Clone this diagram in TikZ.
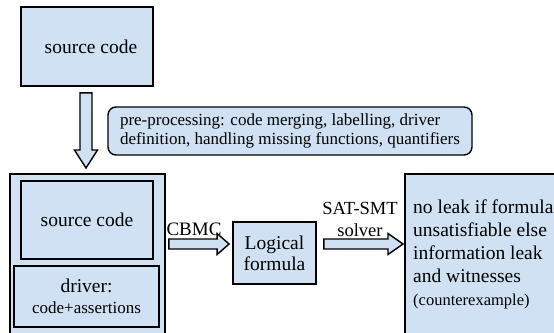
\documentclass[tikz,border=0pt]{standalone}
\usepackage{fontspec}
\setmainfont{Liberation Serif}
\usetikzlibrary{positioning,calc}
\definecolor{boxblue}{RGB}{207,225,242}

\begin{document}
\begin{tikzpicture}[x=1pt,y=-1pt,
  box/.style={draw,line width=1.8pt,fill=boxblue,inner sep=2pt},
  big/.style={font=\fontsize{19.5}{23}\selectfont},
  small/.style={font=\fontsize{17}{19}\selectfont},
  fatarrow/.style={draw,line width=1.4pt,fill=boxblue,
    to path={let \p1=(\tikztostart),\p2=(\tikztotarget) in
      (\x1,\y1+5pt) -- (\x2-#1,\y1+5pt) -- (\x2-#1,\y1+10.5pt) -- (\x2,\y1)
      -- (\x2-#1,\y1-10.5pt) -- (\x2-#1,\y1-5pt) -- (\x1,\y1-5pt) -- cycle}},
  fatdown/.style={draw,line width=1.4pt,fill=boxblue,
    to path={let \p1=(\tikztostart),\p2=(\tikztotarget) in
      (\x1-6pt,\y1) -- (\x1-6pt,\y2+18pt) -- (\x1-11.5pt,\y2+18pt) -- (\x1,\y2)
      -- (\x1+11.5pt,\y2+18pt) -- (\x1+6pt,\y2+18pt) -- (\x1+6pt,\y1) -- cycle}}]
  \useasboundingbox (0,0) rectangle (554,332);
  \clip (0,0) rectangle (554,332);

  \node[box,big,minimum width=132,minimum height=79] (src) at (87,46.5) {\hspace{8pt}source code};
  \node[draw,line width=1.4pt,fill=boxblue,rounded corners=8pt,small,
        minimum width=364,minimum height=48,inner xsep=9pt,align=left] (pre) at (290,131)
    {pre-processing: code merging, labelling, driver\\definition, handling missing functions, quantifiers};

  \node[box,anchor=north west,minimum width=155,minimum height=175] (outer) at (9,173) {};
  \node[box,big,minimum width=132,minimum height=78] (src2) at (87,220) {source code};
  \node[box,big,minimum width=145,minimum height=61,align=center] (drv) at (86.5,296.5)
    {driver:\\[-2pt]{\fontsize{17}{19}\selectfont code+assertions}};

  \node[box,font=\fontsize{19.5}{21}\selectfont,minimum width=83,minimum height=62,
        align=center,inner sep=1pt] (lf) at (274.5,253) {Logical\\formula};

  \node[box,anchor=north west,minimum width=160,minimum height=175] (res) at (404,173) {};
  \node[big,anchor=north west,align=left,inner sep=0pt] (restxt) at (413,200)
    {no leak if formula\\unsatisfiable else\\information leak\\and witnesses\\{\fontsize{16.5}{18}\selectfont (counterexample)}};

  \coordinate (dnS) at ($(src.south)+(-1,6)$);
  \coordinate (dnE) at ($(dnS |- outer.north)+(0,-5)$);
  \path[fatdown] (dnS) to (dnE);

  \coordinate (cbS) at ($(outer.north east)+(3,71)$);
  \coordinate (cbE) at ($(lf.west)+(-3,-9)$);
  \path[fatarrow=12pt] (cbS) to (cbE);
  \node[font=\fontsize{19}{21}\selectfont] (cbmc) at (194,229) {CBMC};

  \coordinate (satS) at ($(lf.east)+(7,-9)$);
  \coordinate (satE) at ($(res.west |- satS)+(-1,0)$);
  \path[fatarrow=15pt] (satS) to (satE);
  \node[align=center,font=\fontsize{18.5}{22}\selectfont] (sat) at (360,219) {SAT-SMT\\solver};
\end{tikzpicture}
\end{document}
